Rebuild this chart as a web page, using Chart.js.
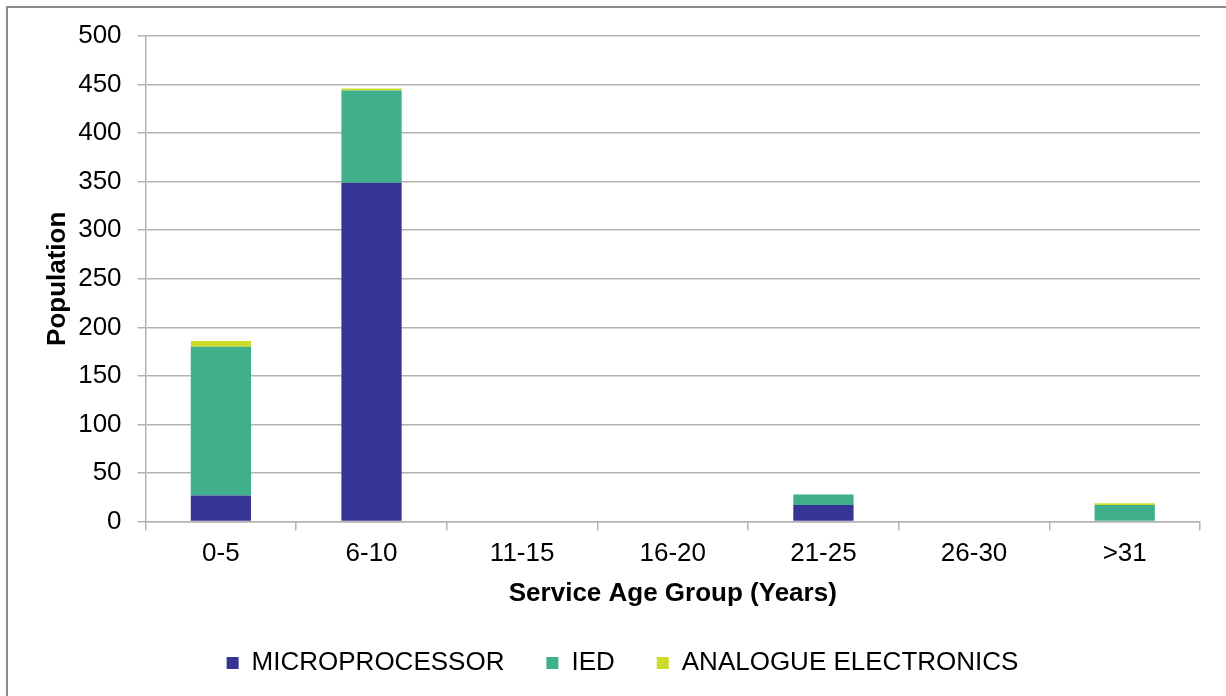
<!DOCTYPE html>
<html>
<head>
<meta charset="utf-8">
<script src="https://cdn.jsdelivr.net/npm/chart.js@4/dist/chart.umd.min.js"></script>
<style>
  html, body { margin: 0; padding: 0; background: #fff; overflow: hidden; }
  #frame { position: absolute; left: 6px; top: 6px; width: 1240px; height: 720px; border: 2px solid #8c8c8c; box-sizing: border-box; }
  #wrap { position: absolute; left: 0; top: 0; width: 1226px; height: 696px; }
</style>
</head>
<body>
<div id="frame"></div>
<div id="wrap"><canvas id="c" width="1226" height="696"></canvas></div>
<script>
const categories = ['0-5', '6-10', '11-15', '16-20', '21-25', '26-30', '>31'];
const microprocessor = [27, 349, 0, 0, 17, 0, 0];
const ied = [153, 95, 0, 0, 11, 0, 17];
const analogue = [6, 2, 0, 0, 0, 0, 2];
const yTicks = [0, 50, 100, 150, 200, 250, 300, 350, 400, 450, 500];

const font = "'Liberation Sans', Arial, sans-serif";
const gridColor = '#b3b3b3';

new Chart(document.getElementById('c'), {
  type: 'bar',
  data: {
    labels: categories,
    datasets: [
      { label: 'MICROPROCESSOR', data: microprocessor, backgroundColor: '#363594' },
      { label: 'IED', data: ied, backgroundColor: '#40B08C' },
      { label: 'ANALOGUE ELECTRONICS', data: analogue, backgroundColor: '#CEDB2A' }
    ]
  },
  options: {
    responsive: false,
    animation: false,
    devicePixelRatio: 1,
    layout: { padding: { left: 45, right: 26, top: 36, bottom: 10 } },
    datasets: { bar: { categoryPercentage: 1.0, barPercentage: 0.4 } },
    scales: {
      x: {
        stacked: true,
        offset: true,
        grid: { display: true, drawOnChartArea: false, drawTicks: true, tickLength: 9, color: gridColor, lineWidth: 1.5, offset: true },
        border: { display: true, color: gridColor, width: 1.5 },
        ticks: { color: '#000', font: { family: font, size: 26 }, padding: 8 },
        title: { display: true, text: 'Service Age Group (Years)', color: '#000', font: { family: font, size: 26, weight: 'bold' }, padding: { top: 0, bottom: -1 } }
      },
      y: {
        stacked: true,
        min: 0, max: 500,
        afterBuildTicks: (axis) => { axis.ticks = yTicks.map(v => ({ value: v })); },
        grid: { color: gridColor, lineWidth: 1.5, tickLength: 8 },
        border: { display: true, color: gridColor, width: 1.5 },
        ticks: { color: '#000', font: { family: font, size: 26 }, padding: 16 },
        title: { display: true, text: 'Population', color: '#000', font: { family: font, size: 26, weight: 'bold' }, padding: { top: -3, bottom: -11 } }
      }
    },
    plugins: {
      legend: {
        position: 'bottom',
        labels: { color: '#000', font: { family: font, size: 26 }, boxWidth: 12, boxHeight: 12, padding: 42 }
      },
      tooltip: { enabled: false }
    }
  }
});
</script>
</body>
</html>
